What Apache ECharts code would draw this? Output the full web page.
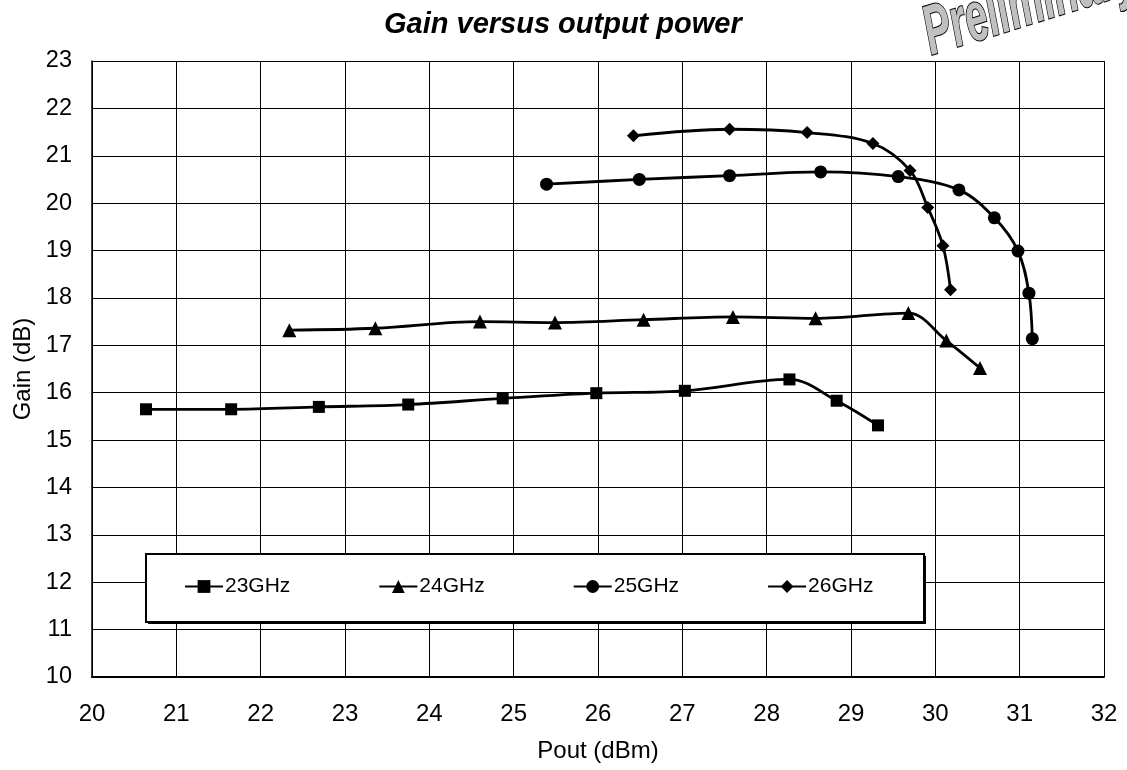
<!DOCTYPE html>
<html>
<head>
<meta charset="utf-8">
<script src="https://cdn.jsdelivr.net/npm/echarts@6/dist/echarts.min.js"></script>
<style>
  * { margin: 0; padding: 0; }
  #chart { width: 1127px; height: 770px; background: #fff; }
</style>
</head>
<body>
<div id="chart"></div>
<script>
  // Pout (dBm) / Gain (dB)
  var pout23 = [20.64, 21.65, 22.69, 23.75, 24.87, 25.98, 27.03, 28.27, 28.83, 29.32]
  var gain23 = [15.65, 15.65, 15.70, 15.75, 15.88, 15.99, 16.04, 16.28, 15.83, 15.31]
  var pout24 = [22.34, 23.36, 24.60, 25.49, 26.54, 27.60, 28.58, 29.68, 30.13, 30.53]
  var gain24 = [17.32, 17.36, 17.50, 17.48, 17.54, 17.60, 17.57, 17.68, 17.10, 16.52]
  var pout25 = [25.39, 26.49, 27.56, 28.64, 29.56, 30.28, 30.70, 30.98, 31.11, 31.15]
  var gain25 = [20.40, 20.50, 20.58, 20.66, 20.56, 20.28, 19.69, 18.99, 18.10, 17.14]
  var pout26 = [26.42, 27.56, 28.48, 29.26, 29.70, 29.91, 30.09, 30.18]
  var gain26 = [21.42, 21.56, 21.49, 21.26, 20.69, 19.91, 19.10, 18.17]
  var seriesNames = ['23GHz', '24GHz', '25GHz', '26GHz']

  function pairs(xs, ys) {
    return xs.map(function (x, i) { return [x, ys[i]] })
  }

  var font = 'Liberation Sans, Arial, sans-serif'
  var chart = echarts.init(document.getElementById('chart'), null, { renderer: 'canvas' })

  function line(name, data, symbol, size) {
    return {
      name: name,
      type: 'line',
      data: data,
      smooth: 0.35,
      symbol: symbol,
      symbolSize: size,
      lineStyle: { color: '#000', width: 2.8 },
      itemStyle: { color: '#000' },
      z: 3,
    }
  }

  var option = {
    animation: false,
    backgroundColor: '#fff',
    title: {
      text: 'Gain versus output power',
      left: 384,
      top: 10,
      padding: 0,
      textStyle: { fontFamily: font, fontSize: 29, fontWeight: 'bold', fontStyle: 'italic', color: '#000' },
    },
    grid: { left: 92, top: 61, right: 23, bottom: 93 },
    legend: {
      data: seriesNames,
      left: 184,
      top: 576,
      padding: 0,
      itemWidth: 38,
      itemHeight: 16,
      itemGap: 88,
      z: 10,
      textStyle: { fontFamily: font, fontSize: 21, color: '#000', padding: [0, 0, 0, -3] },
    },
    xAxis: {
      type: 'value',
      min: 20,
      max: 32,
      interval: 1,
      name: 'Pout (dBm)',
      nameLocation: 'middle',
      nameGap: 62,
      nameTextStyle: { fontFamily: font, fontSize: 24, color: '#000' },
      axisLine: { lineStyle: { color: '#000', width: 2 } },
      axisTick: { show: false },
      axisLabel: { fontFamily: font, fontSize: 24, color: '#000', margin: 25 },
      splitLine: { show: true, lineStyle: { color: '#000', width: 1 } },
    },
    yAxis: {
      type: 'value',
      min: 10,
      max: 23,
      interval: 1,
      name: 'Gain (dB)',
      nameLocation: 'middle',
      nameGap: 57,
      nameTextStyle: { fontFamily: font, fontSize: 24, color: '#000' },
      axisLine: { show: true, lineStyle: { color: '#000', width: 1.5 } },
      axisTick: { show: false },
      axisLabel: { fontFamily: font, fontSize: 23.5, color: '#000', margin: 20 },
      splitLine: { show: true, lineStyle: { color: '#000', width: 1 } },
    },
    graphic: [
      {
        type: 'rect',
        left: 148,
        top: 556,
        z: 5,
        shape: { width: 778, height: 68 },
        style: { fill: '#000' },
      },
      {
        type: 'rect',
        left: 145,
        top: 553,
        z: 6,
        shape: { width: 778, height: 68 },
        style: { fill: '#fff', stroke: '#000', lineWidth: 2 },
      },
      {
        type: 'text',
        x: 936,
        y: 70,
        rotation: 0.3,
        scaleX: 0.8,
        scaleY: 1.4,
        z: 5,
        style: {
          text: 'Preliminary',
          font: 'italic bold 50px "Liberation Sans", Arial, sans-serif',
          fill: '#c0c0c0',
          stroke: '#000',
          lineWidth: 1.5,
          textVerticalAlign: 'bottom',
        },
      },
    ],
    series: [
      line('23GHz', pairs(pout23, gain23), 'rect', 12),
      line('24GHz', pairs(pout24, gain24), 'triangle', 14),
      line('25GHz', pairs(pout25, gain25), 'circle', 13),
      line('26GHz', pairs(pout26, gain26), 'diamond', 13),
    ],
  }

  chart.setOption(option)
</script>
</body>
</html>
